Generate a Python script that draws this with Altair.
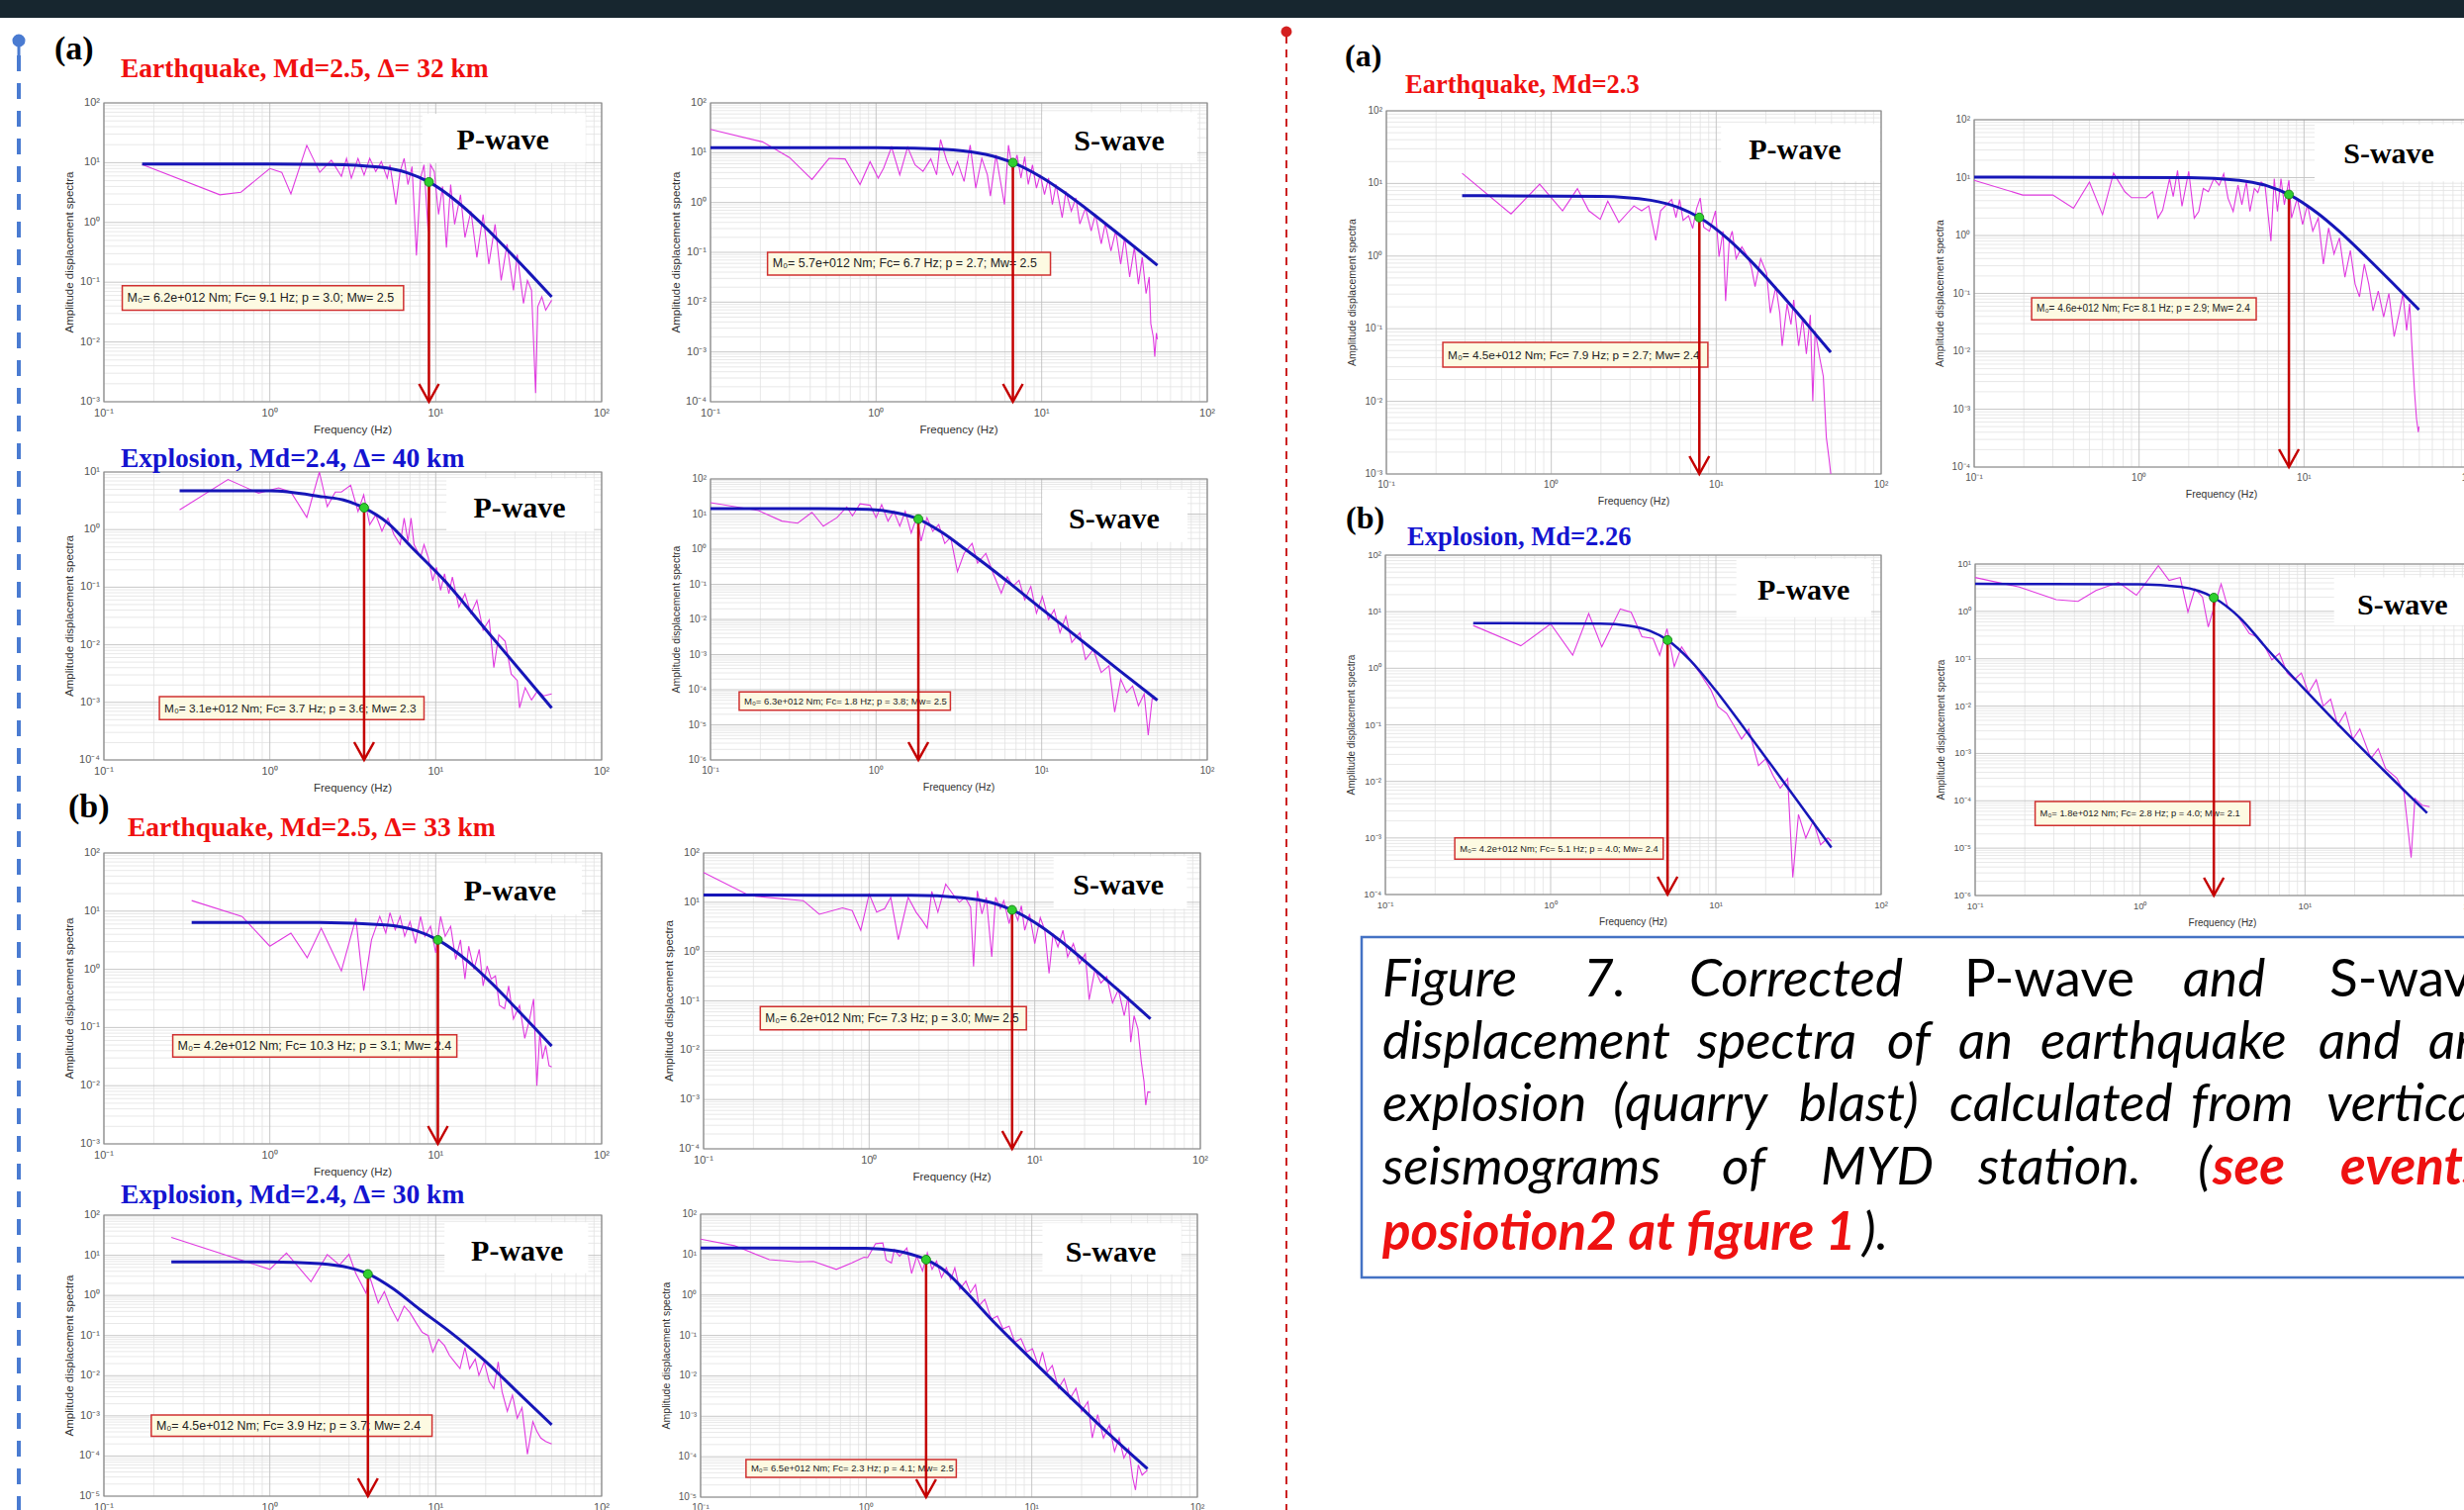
import math
import altair as alt
import pandas as pd

W, H = 2490, 1526

# ================= DATA =================
# observed spectra (magenta): (frequency Hz, amplitude)
P1_OBS = [(0.17, 9.3), (0.5, 2.9), (0.67, 3.2), (1.0, 8.0), (1.18, 6.9), (1.34, 3.0), (1.67, 19.5), (2.0, 6.9),
          (2.35, 11), (2.7, 5.9), (2.9, 11.8), (3.1, 5.5), (3.4, 11.8), (3.7, 6.2), (4.0, 11.8), (4.35, 7.1),
          (4.7, 10.4), (5.1, 5.5), (5.3, 9.2), (5.75, 2.0), (6.1, 7.1), (6.45, 11.8), (6.8, 4.3), (7.2, 8.6),
          (7.65, 0.28), (8.1, 5.5), (8.5, 9.2), (9.0, 0.72), (9.3, 9.2), (9.8, 7.1), (10.4, 1.36), (11, 4.0),
          (11.6, 0.38), (12.3, 4.3), (13, 0.93), (14.1, 2.9), (15, 0.56), (16.3, 1.54), (17.7, 0.26), (19.3, 1.36),
          (20.9, 0.20), (22.8, 0.93), (24.8, 0.107), (26.9, 0.43), (29.4, 0.073), (31, 0.29), (33.8, 0.044),
          (35.7, 0.107), (37.8, 0.073), (40, 0.0014), (41.2, 0.039), (43.6, 0.057), (46, 0.034), (50, 0.050)]
P1_FIT = [(0.17, 9.5), (1.0, 9.5), (2.3, 9.35), (4.55, 8.44), (6.8, 6.70), (9.1, 4.75), (13.6, 2.17),
          (18.2, 1.056), (27.3, 0.339), (36, 0.151), (50, 0.057)]

P2_OBS = [(0.1, 29.5), (0.206, 16.5), (0.30, 8.0), (0.41, 2.9), (0.52, 7.7), (0.65, 7.5), (0.80, 2.3), (0.92, 6.6),
          (1.03, 3.1), (1.11, 4.9), (1.24, 13), (1.39, 3.6), (1.55, 13), (1.72, 5.7), (1.92, 4.2), (2.14, 7.5),
          (2.32, 3.6), (2.45, 18.4), (2.67, 6.9), (2.9, 3.6), (3.1, 6.6), (3.4, 2.65), (3.7, 14.2), (4.0, 1.95),
          (4.35, 7.7), (4.7, 3.6), (4.9, 1.34), (5.3, 9), (5.55, 3.6), (5.96, 0.91), (6.3, 14.2), (6.7, 4.2),
          (7.1, 9), (7.5, 3.1), (7.9, 8.3), (8.3, 2.3), (8.8, 5.7), (9.3, 1.95), (9.8, 3.6), (10.4, 1.44),
          (11, 3.1), (11.6, 0.91), (12.2, 2.3), (13.3, 0.5), (14, 1.68), (15.1, 0.67), (16.1, 1.24), (17, 0.37),
          (18.4, 0.78), (19.9, 0.27), (21.1, 0.58), (22.9, 0.148), (24.2, 0.38), (26.2, 0.107), (28, 0.27),
          (30, 0.058), (31.7, 0.2), (34, 0.032), (36.3, 0.126), (38.4, 0.023), (40.5, 0.079), (42.7, 0.0149),
          (44.6, 0.032), (45.6, 0.0037), (47.2, 0.002), (48.2, 0.0008), (49.3, 0.0024), (50, 0.0018)]
P2_FIT = [(0.1, 12.6), (1.0, 12.55), (1.7, 12.3), (3.35, 10.9), (5.0, 8.67), (6.7, 6.3), (10, 3.19), (13.4, 1.68),
          (20, 0.624), (30, 0.215), (50, 0.055)]

P3_OBS = [(0.286, 2.2), (0.56, 7.4), (0.855, 4.3), (1.13, 5.3), (1.34, 4.5), (1.67, 1.63), (1.99, 10), (2.22, 2.5),
          (2.48, 4.5), (2.7, 4.5), (3.07, 5.9), (3.4, 2.06), (3.68, 4.0), (4.0, 1.22), (4.35, 1.8), (4.74, 0.94),
          (5.15, 1.58), (5.6, 0.82), (6.1, 0.55), (6.45, 1.58), (6.8, 0.63), (7.1, 1.58), (7.4, 0.55), (8.1, 0.33),
          (8.5, 0.55), (9.0, 0.33), (9.6, 0.13), (10.1, 0.22), (10.7, 0.088), (11.3, 0.17), (12, 0.077),
          (12.6, 0.15), (13.8, 0.045), (15, 0.077), (16.3, 0.035), (17.7, 0.059), (19.3, 0.018), (21, 0.027),
          (22.4, 0.004), (24, 0.0148), (26.2, 0.0115), (28.5, 0.0031), (31, 0.0024), (32, 0.0008), (34.6, 0.0018),
          (37.8, 0.0011), (41.2, 0.0016), (44.7, 0.0013), (50, 0.0014)]
P3_FIT = [(0.286, 4.7), (1.0, 4.7), (2.1, 3.7), (2.78, 3.27), (3.68, 2.4), (5.15, 1.3), (7.2, 0.485), (11.3, 0.13),
          (19.9, 0.0187), (34.7, 0.0028), (50, 0.0008)]

P4_OBS = [(0.1, 21), (0.195, 12.6), (0.27, 6.3), (0.336, 5.5), (0.41, 11.2), (0.48, 4.5), (0.58, 7.9), (0.665, 15.8),
          (0.72, 8.9), (0.80, 19.5), (0.92, 17.8), (1.0, 7.9), (1.08, 18.6), (1.18, 6.3), (1.28, 12), (1.39, 4.5),
          (1.5, 12), (1.63, 2.9), (1.77, 8.9), (1.87, 1.7), (2.03, 7.9), (2.2, 3.2), (2.39, 5), (2.6, 1.45),
          (2.82, 2.2), (3.1, 0.23), (3.4, 0.76), (3.8, 1.45), (4.1, 0.4), (4.6, 0.76), (5.1, 0.2), (5.7, 0.056),
          (6.2, 0.165), (6.7, 0.087), (7.3, 0.13), (7.9, 0.036), (8.6, 0.087), (9.3, 0.015), (10.1, 0.045),
          (11, 0.01), (11.9, 0.019), (12.9, 0.0042), (14, 0.0124), (15.2, 0.0022), (17, 0.0042), (18.4, 0.00072),
          (20.5, 0.0014), (22.9, 0.00031), (25.5, 0.00048), (27.6, 2.3e-5), (30, 0.0002), (32.6, 8.3e-5),
          (35.4, 0.000126), (38.4, 3.5e-5), (41.6, 7.6e-5), (44, 5.1e-6), (46.5, 5.7e-5), (50, 5e-5)]
P4_FIT = [(0.1, 14.4), (0.45, 14.3), (0.9, 13.5), (1.3, 11), (1.8, 7.2), (2.5, 3.0), (3.5, 0.95), (5, 0.27),
          (10, 0.02), (20, 0.0015), (30, 0.00033), (50, 5e-5)]

P5_OBS = [(0.338, 15.2), (0.68, 8.1), (1.0, 2.5), (1.34, 4.2), (1.68, 1.58), (2.04, 5.1), (2.7, 0.94), (3.3, 7.6),
          (3.68, 0.43), (4.1, 3.2), (4.6, 8.1), (5.0, 4.2), (5.3, 9.4), (5.7, 4.8), (6.1, 8.1), (6.5, 3.7),
          (7.0, 6.6), (7.55, 2.8), (8.1, 8.1), (8.6, 3.7), (9.3, 5.5), (10, 1.92), (10.7, 8.1), (11.4, 3.7),
          (12.3, 5.5), (13.2, 1.48), (14.1, 3.2), (15, 0.68), (15.8, 2.5), (17, 1.0), (18.3, 2.2), (19.3, 0.52),
          (20.4, 1.14), (21.6, 0.68), (22.9, 0.77), (24.2, 0.24), (26, 0.21), (27.5, 0.52), (29.4, 0.14),
          (32, 0.24), (34.4, 0.065), (36.8, 0.14), (38.9, 0.31), (40.7, 0.01), (42.4, 0.083), (44, 0.029),
          (46, 0.049), (48.2, 0.022), (50, 0.021)]
P5_FIT = [(0.338, 6.4), (2, 6.36), (5, 5.8), (7.5, 4.7), (10.3, 3.2), (15.8, 1.34), (21.2, 0.62), (32, 0.185),
          (50, 0.048)]

P6_OBS = [(0.1, 40), (0.19, 13.6), (0.4, 10.8), (0.5, 5.7), (0.69, 7.7), (0.79, 6.8), (0.89, 2.7), (1.0, 14.7),
          (1.11, 6.3), (1.24, 7.4), (1.35, 12.6), (1.5, 1.74), (1.72, 12.6), (1.92, 6.3), (2.09, 4.3), (2.24, 3.0),
          (2.39, 16.6), (2.6, 6.3), (2.9, 23.3), (3.2, 14.7), (3.5, 10), (3.8, 12.6), (4.1, 7.9), (4.27, 0.5),
          (4.5, 17), (4.8, 5.8), (5.1, 12.6), (5.5, 0.78), (5.8, 12.6), (6.2, 7.4), (6.5, 10.8), (7.0, 3.7),
          (7.4, 7.9), (7.9, 4.3), (8.3, 8.5), (8.7, 2.7), (9.3, 5.8), (10, 1.45), (10.8, 4.9), (11.5, 2.7),
          (12.2, 0.36), (12.9, 2.3), (13.8, 1.24), (14.8, 2.7), (15.8, 0.78), (17.1, 1.45), (18.6, 0.57),
          (20.2, 0.9), (21.3, 0.105), (23.1, 0.43), (25.1, 0.23), (27.2, 0.31), (29.5, 0.091), (32, 0.17),
          (34.7, 0.05), (36.7, 0.125), (38, 0.0145), (39.8, 0.05), (42, 0.027), (44, 0.0058), (45.7, 0.0023),
          (46.8, 0.00077), (48.2, 0.00143), (50, 0.0014)]
P6_FIT = [(0.1, 14), (1.8, 13.8), (3.65, 12.4), (5.5, 9.8), (7.3, 7.0), (11, 3.17), (14.6, 1.56), (22, 0.49),
          (33, 0.15), (50, 0.0435)]

P7_OBS = [(0.255, 28), (1.0, 4.45), (1.26, 11.4), (1.77, 2.2), (2.22, 10.4), (2.63, 5.7), (3.0, 10.6), (3.3, 3.5),
          (3.8, 1.14), (4.0, 2.9), (4.5, 0.65), (4.9, 1.25), (5.3, 0.54), (5.9, 0.23), (6.45, 0.54), (7.0, 0.37),
          (7.6, 0.21), (8.3, 0.12), (9.0, 0.1), (9.6, 0.039), (10.4, 0.081), (11.3, 0.056), (12.1, 0.032),
          (13, 0.022), (14, 0.015), (15, 0.05), (16, 0.015), (17.3, 0.026), (18.2, 0.0102), (19.6, 0.022),
          (21, 0.0071), (22.4, 0.0048), (23.8, 0.022), (25.1, 0.004), (27, 0.0013), (29, 0.0033), (31, 0.00087),
          (33.1, 0.0016), (35.7, 0.00011), (38.5, 0.00072), (40.7, 0.00041), (43, 0.00028), (46, 0.00023),
          (50, 0.0002)]
P7_FIT = [(0.255, 6.85), (1.0, 6.85), (2.0, 6.2), (3.0, 4.9), (3.94, 3.4), (5.5, 1.5), (8, 0.45), (12, 0.13),
          (19.9, 0.023), (29.7, 0.0047), (50, 0.0006)]

P8_OBS = [(0.1, 24), (0.16, 16.6), (0.26, 7.5), (0.385, 6.6), (0.48, 6.8), (0.66, 4.3), (0.82, 6.2), (0.97, 8.6),
          (1.02, 8.4), (1.14, 18.6), (1.26, 19.4), (1.32, 7.3), (1.42, 6.2), (1.48, 13.3), (1.59, 9.1),
          (1.76, 14.6), (1.88, 3.4), (2.02, 9.1), (2.19, 3.9), (2.34, 11), (2.5, 4.3), (2.66, 6.9), (2.85, 2.7),
          (3.05, 4.7), (3.24, 2.4), (3.43, 4.7), (3.67, 1.38), (4.0, 2.2), (4.26, 1.14), (4.57, 1.8), (4.8, 0.54),
          (5.2, 0.78), (5.7, 0.25), (6.2, 0.3), (6.7, 0.145), (7.3, 0.17), (7.9, 0.068), (8.6, 0.083),
          (9.3, 0.039), (10.1, 0.047), (11, 0.017), (11.6, 0.039), (12.4, 0.0125), (13.3, 0.018), (14.5, 0.0049),
          (15.7, 0.0085), (17, 0.0027), (18.5, 0.0049), (20, 0.0013), (21.8, 0.0023), (23.2, 0.00029),
          (25, 0.0011), (27.1, 0.00029), (29.4, 0.0006), (31.6, 0.000135), (33.7, 0.00029), (36, 9.3e-5),
          (38.5, 0.00016), (40.7, 3e-5), (42.3, 1.5e-5), (44, 6.3e-5), (46.4, 3.5e-5), (50, 4.7e-5)]
P8_FIT = [(0.1, 14.6), (1.0, 14.4), (1.5, 12.5), (2.3, 7.5), (3.0, 3.9), (4.0, 1.2), (6.0, 0.2), (10, 0.025),
          (20, 0.0016), (30, 0.00033), (50, 5e-5)]

P9_OBS = [(0.288, 13.8), (0.57, 3.8), (0.85, 9.8), (1.17, 4.2), (1.44, 8.5), (1.69, 4.2), (1.98, 3.2), (2.2, 5.7),
          (2.57, 2.9), (2.86, 3.8), (3.17, 4.9), (3.53, 4.2), (3.9, 4.9), (4.3, 1.65), (4.6, 4.2), (5.0, 5.1),
          (5.37, 6.0), (5.7, 3.4), (6.0, 6.0), (6.3, 3.1), (6.8, 3.6), (7.2, 2.4), (7.6, 4.5), (8.0, 6.3),
          (8.4, 2.5), (9.1, 2.2), (9.9, 4.2), (10.4, 0.98), (11, 2.2), (11.4, 0.24), (12, 1.65), (12.5, 2.2),
          (13.2, 0.92), (14.3, 1.34), (15.5, 0.98), (16.3, 0.72), (17.2, 0.38), (18.6, 0.92), (20.2, 0.58),
          (21.3, 0.164), (23, 0.38), (24.3, 0.164), (25.1, 0.058), (26.9, 0.22), (28.4, 0.114), (29.5, 0.25),
          (31.6, 0.058), (33.4, 0.14), (35.2, 0.045), (37.2, 0.155), (38.5, 0.01), (39.8, 0.093), (42.3, 0.041),
          (44.6, 0.022), (46.5, 0.0032), (48.2, 0.0017), (49.5, 0.001)]
P9_FIT = [(0.288, 6.8), (2.0, 6.64), (4.0, 5.87), (6.0, 4.6), (7.9, 3.4), (11.85, 1.7), (15.8, 0.907),
          (23.7, 0.333), (35, 0.12), (49.5, 0.0475)]

P10_OBS = [(0.1, 9.0), (0.197, 5.0), (0.3, 5.0), (0.4, 2.95), (0.5, 8.4), (0.6, 2.3), (0.7, 12), (0.82, 5.7),
           (0.9, 4.5), (1.1, 4.5), (1.21, 5.7), (1.3, 2.0), (1.39, 2.75), (1.53, 9.6), (1.61, 4.7), (1.71, 13.3),
           (1.82, 3.2), (2.0, 12.8), (2.16, 2.0), (2.3, 2.6), (2.45, 6.5), (2.63, 5.7), (2.84, 9.6), (3.06, 7.4),
           (3.26, 11.7), (3.46, 4.4), (3.72, 2.6), (3.98, 7.4), (4.2, 3.4), (4.47, 8.4), (4.7, 2.6), (5.0, 6.5),
           (5.25, 5.5), (5.5, 8.4), (5.8, 7.4), (6.3, 0.8), (6.6, 9.6), (6.9, 2.6), (7.25, 9.6), (7.6, 3.4),
           (8.1, 9.0), (8.4, 2.0), (9.1, 4.4), (9.8, 1.55), (10.5, 3.4), (11.3, 1.19), (12.2, 2.0), (13.1, 0.32),
           (14.1, 1.35), (15.2, 0.48), (16.4, 0.91), (17.7, 0.19), (19.1, 0.55), (20.4, 0.145), (21.7, 0.087),
           (23.2, 0.32), (24.7, 0.145), (26.2, 0.05), (28.2, 0.11), (30.4, 0.039), (32.7, 0.1), (35.2, 0.018),
           (38, 0.05), (39.8, 0.1), (41.9, 0.023), (43.7, 0.066), (45.2, 0.0107), (46.8, 0.00195),
           (48.1, 0.00068), (49.3, 0.0004), (49.8, 0.0005)]
P10_FIT = [(0.1, 10.2), (2.0, 10.03), (4.05, 9.0), (6.0, 7.2), (8.1, 5.1), (12.15, 2.4), (16.2, 1.21),
           (24.3, 0.405), (36, 0.133), (49.8, 0.0523)]

P11_OBS = [(0.34, 5.7), (0.66, 2.5), (1.0, 6.1), (1.36, 1.7), (1.7, 9.3), (2.04, 2.4), (2.64, 11.2), (3.07, 9.8),
           (3.57, 3.6), (4.17, 3.35), (4.57, 1.7), (5.06, 5.0), (5.6, 1.07), (6.2, 2.4), (7.0, 1.4), (8.0, 0.82),
           (9.3, 0.42), (10.3, 0.21), (11.6, 0.16), (12.9, 0.095), (14.3, 0.056), (15.8, 0.084), (18.1, 0.019),
           (20, 0.025), (22.1, 0.0129), (24.5, 0.0076), (27.2, 0.0112), (29.2, 0.0002), (31.6, 0.0026),
           (35, 0.001), (38.8, 0.002), (43, 0.00076), (47.6, 0.001), (50, 0.00088)]
P11_FIT = [(0.34, 6.3), (2.0, 6.15), (3.0, 5.63), (4.0, 4.57), (5.1, 3.15), (7.0, 1.38), (10, 0.40), (15, 0.083),
           (25, 0.0109), (50, 0.00068)]

P12_OBS = [(0.1, 5.2), (0.185, 3.26), (0.31, 1.77), (0.42, 1.63), (0.54, 2.76), (0.74, 4.1), (0.95, 2.2), (1.1, 4.3),
           (1.29, 9.2), (1.5, 4.5), (1.75, 5.2), (1.95, 0.97), (2.15, 3.0), (2.39, 2.0), (2.59, 0.47), (2.87, 1.6),
           (3.1, 3.8), (3.4, 1.23), (3.8, 0.9), (4.2, 0.55), (4.6, 0.34), (5.1, 0.29), (5.7, 0.18), (6.3, 0.095),
           (7.0, 0.13), (7.8, 0.05), (8.6, 0.036), (9.5, 0.05), (10.5, 0.019), (11.7, 0.036), (12.9, 0.01),
           (14.3, 0.014), (15.8, 0.0039), (17.6, 0.0074), (19.5, 0.002), (21.5, 0.0033), (25.1, 0.00078),
           (27.8, 0.00126), (30.8, 0.00048), (36, 0.0003), (39.8, 0.000155), (44, 6.3e-6), (46.4, 0.000112),
           (51.3, 8.1e-5), (57, 7.5e-5)]
P12_FIT = [(0.1, 3.8), (1.0, 3.75), (1.75, 3.3), (2.8, 1.95), (4.0, 0.75), (6.0, 0.15), (10, 0.022), (20, 0.0018),
           (30, 0.00044), (55, 5.5e-5)]

# fitted source parameters / panel content
PANELS = [
    dict(wave='P-wave', fc=9.1, afc=4.75, ydom=(1e-3, 1e2), obs=P1_OBS, fit=P1_FIT,
         note='M₀= 6.2e+012 Nm; Fc= 9.1 Hz; p = 3.0; Mw= 2.5'),
    dict(wave='S-wave', fc=6.7, afc=6.3, ydom=(1e-4, 1e2), obs=P2_OBS, fit=P2_FIT,
         note='M₀= 5.7e+012 Nm; Fc= 6.7 Hz; p = 2.7; Mw= 2.5'),
    dict(wave='P-wave', fc=3.7, afc=2.4, ydom=(1e-4, 1e1), obs=P3_OBS, fit=P3_FIT,
         note='M₀= 3.1e+012 Nm; Fc= 3.7 Hz; p = 3.6; Mw= 2.3'),
    dict(wave='S-wave', fc=1.8, afc=7.2, ydom=(1e-6, 1e2), obs=P4_OBS, fit=P4_FIT,
         note='M₀= 6.3e+012 Nm; Fc= 1.8 Hz; p = 3.8; Mw= 2.5'),
    dict(wave='P-wave', fc=10.3, afc=3.2, ydom=(1e-3, 1e2), obs=P5_OBS, fit=P5_FIT,
         note='M₀= 4.2e+012 Nm; Fc= 10.3 Hz; p = 3.1; Mw= 2.4'),
    dict(wave='S-wave', fc=7.3, afc=7.0, ydom=(1e-4, 1e2), obs=P6_OBS, fit=P6_FIT,
         note='M₀= 6.2e+012 Nm; Fc= 7.3 Hz; p = 3.0; Mw= 2.5'),
    dict(wave='P-wave', fc=3.9, afc=3.4, ydom=(1e-5, 1e2), obs=P7_OBS, fit=P7_FIT,
         note='M₀= 4.5e+012 Nm; Fc= 3.9 Hz; p = 3.7; Mw= 2.4'),
    dict(wave='S-wave', fc=2.3, afc=7.5, ydom=(1e-5, 1e2), obs=P8_OBS, fit=P8_FIT,
         note='M₀= 6.5e+012 Nm; Fc= 2.3 Hz; p = 4.1; Mw= 2.5'),
    dict(wave='P-wave', fc=7.9, afc=3.4, ydom=(1e-3, 1e2), obs=P9_OBS, fit=P9_FIT,
         note='M₀= 4.5e+012 Nm; Fc= 7.9 Hz; p = 2.7; Mw= 2.4'),
    dict(wave='S-wave', fc=8.1, afc=5.1, ydom=(1e-4, 1e2), obs=P10_OBS, fit=P10_FIT,
         note='M₀= 4.6e+012 Nm; Fc= 8.1 Hz; p = 2.9; Mw= 2.4'),
    dict(wave='P-wave', fc=5.1, afc=3.15, ydom=(1e-4, 1e2), obs=P11_OBS, fit=P11_FIT,
         note='M₀= 4.2e+012 Nm; Fc= 5.1 Hz; p = 4.0; Mw= 2.4'),
    dict(wave='S-wave', fc=2.8, afc=1.95, ydom=(1e-6, 1e1), obs=P12_OBS, fit=P12_FIT,
         note='M₀= 1.8e+012 Nm; Fc= 2.8 Hz; p = 4.0; Mw= 2.1'),
]

X_TICKS = [0.1, 1, 10, 100]
X_TITLE = 'Frequency (Hz)'
Y_TITLE = 'Amplitude displacement spectra'

TITLES = [
    ('(a)', 'black', 34, 55, 60),
    ('Earthquake, Md=2.5, Δ= 32 km', 'red', 27.5, 122, 78),
    ('Explosion, Md=2.4, Δ= 40 km', 'blue', 27.5, 122, 472),
    ('(b)', 'black', 34, 69, 826),
    ('Earthquake, Md=2.5, Δ= 33 km', 'red', 27.5, 129, 845),
    ('Explosion, Md=2.4, Δ= 30 km', 'blue', 27.5, 122, 1216),
    ('(a)', 'black', 32, 1359, 67),
    ('Earthquake, Md=2.3', 'red', 26.5, 1420, 94),
    ('(b)', 'black', 32, 1360, 534),
    ('Explosion, Md=2.26', 'blue', 26.5, 1422, 551),
]

CAPTION = [
    # (word, style, x, baseline)  style: i = italic, u = upright, r = red bold italic
    ('Figure', 'i', 1397, 1007), ('7.', 'i', 1600, 1007), ('Corrected', 'i', 1707, 1007),
    ('P-wave', 'u', 1985, 1007), ('and', 'i', 2206, 1007), ('S-wave', 'u', 2354, 1007),
    ('displacement', 'i', 1397, 1070), ('spectra', 'i', 1715, 1070), ('of', 'i', 1907, 1070),
    ('an', 'i', 1979, 1070), ('earthquake', 'i', 2062, 1070), ('and', 'i', 2343, 1070), ('an', 'i', 2454, 1070),
    ('explosion', 'i', 1397, 1133), ('(quarry', 'i', 1630, 1133), ('blast)', 'i', 1818, 1133),
    ('calculated', 'i', 1970, 1133), ('from', 'i', 2214, 1133), ('vertical', 'i', 2351, 1133),
    ('seismograms', 'i', 1397, 1197), ('of', 'i', 1740, 1197), ('MYD', 'i', 1840, 1197),
    ('station.', 'i', 1999, 1197), ('(', 'i', 2221, 1197), ('see', 'r', 2236, 1197), ('events', 'r', 2365, 1197),
    ('posiotion2 at figure 1', 'r', 1397, 1263), (').', 'i', 1882, 1263),
]

# ================= LAYOUT (pixel frames of each panel, annotation placement) =================
LAYOUT = [
    dict(L=105, R=608, T=104, B=406, afs=11, lw=3, bfs=12.5, anno=(0.129, 6.4, 0.034, 0.087), lab=(25.4, 23.8), labbox=(8.3, 80, 10, 66)),
    dict(L=718, R=1220, T=104, B=406, afs=11, lw=3, bfs=12.4, anno=(0.221, 11.3, 0.035, 0.1), lab=(29.4, 16.6), labbox=(10.1, 87, 6.2, 65)),
    dict(L=105, R=608, T=477, B=768, afs=11, lw=3, bfs=11.8, anno=(0.216, 8.5, 0.0005, 0.00126), lab=(32, 2.35), labbox=(11.6, 90, 0.93, 7.7)),
    dict(L=718, R=1220, T=484, B=768, afs=10, lw=3, bfs=9.5, anno=(0.149, 2.81, 2.6e-5, 8.6e-5), lab=(27.4, 7.2), labbox=(10.1, 76, 1.6, 50)),
    dict(L=105, R=608, T=862, B=1156, afs=11, lw=3, bfs=12.5, anno=(0.26, 13.4, 0.031, 0.075), lab=(28, 21.6), labbox=(10.1, 76, 8.7, 66)),
    dict(L=711, R=1213, T=862, B=1161, afs=11, lw=3, bfs=11.9, anno=(0.22, 8.9, 0.026, 0.077), lab=(32, 21.5), labbox=(13, 83, 7.4, 85)),
    dict(L=105, R=608, T=1228, B=1512, afs=11, lw=3, bfs=12.4, anno=(0.193, 9.5, 0.00031, 0.00105), lab=(31, 12), labbox=(11.3, 83, 3.55, 66)),
    dict(L=708, R=1210, T=1227, B=1513, afs=10, lw=3, bfs=9.5, anno=(0.188, 3.5, 3.1e-5, 8.5e-5), lab=(30, 11), labbox=(11.6, 80, 3.2, 59)),
    dict(L=1401, R=1901, T=112, B=479, afs=10, lw=3, bfs=11.8, anno=(0.22, 8.9, 0.0295, 0.065), lab=(30, 28.7), labbox=(10.7, 98, 10.7, 66)),
    dict(L=1995, R=2495, T=121, B=472, afs=10, lw=3, bfs=10, anno=(0.223, 5.13, 0.035, 0.084), lab=(32.7, 25.6), labbox=(11.6, 130, 8.6, 83)),
    dict(L=1400, R=1901, T=561, B=904, afs=9.5, lw=2.5, bfs=9.3, anno=(0.263, 4.8, 0.00042, 0.001), lab=(34, 23), labbox=(13.3, 87, 8, 85)),
    dict(L=1996, R=2496, T=570, B=905, afs=9.5, lw=2.5, bfs=9.4, anno=(0.231, 4.64, 3.0e-5, 9.7e-5), lab=(39, 1.33), labbox=(15, 130, 0.51, 5.2)),
]

SUP = {'-': '⁻', '0': '⁰', '1': '¹', '2': '²', '3': '³', '4': '⁴', '5': '⁵', '6': '⁶'}


def pow_label(v):
    e = round(math.log10(v))
    return '10' + ''.join(SUP[c] for c in str(e))


SANS = 'Liberation Sans'
SERIF = 'Liberation Serif'


def make_panel(info, lay):
    ylo, yhi = info['ydom']
    xs = alt.Scale(type='log', domain=[0.1, 100], range=[lay['L'], lay['R']], nice=False)
    ys = alt.Scale(type='log', domain=[ylo, yhi], range=[lay['B'], lay['T']], nice=False)
    e_lo, e_hi = round(math.log10(ylo)), round(math.log10(yhi))

    x_major = [10.0 ** e for e in range(-1, 3)]
    x_minor = [m * 10.0 ** e for e in range(-1, 2) for m in range(2, 10)]
    y_major = [10.0 ** e for e in range(e_lo, e_hi + 1)]
    y_minor = [m * 10.0 ** e for e in range(e_lo, e_hi) for m in range(2, 10)]

    def X(f):
        return alt.X(f, scale=xs, axis=None)

    def Y(f):
        return alt.Y(f, scale=ys, axis=None)

    def vgrid(vals, color, w):
        df = pd.DataFrame({'v': vals, 'lo': ylo, 'hi': yhi})
        return alt.Chart(df).mark_rule(color=color, strokeWidth=w).encode(x=X('v:Q'), y=Y('lo:Q'), y2='hi:Q')

    def hgrid(vals, color, w):
        df = pd.DataFrame({'v': vals, 'lo': 0.1, 'hi': 100})
        return alt.Chart(df).mark_rule(color=color, strokeWidth=w).encode(y=Y('v:Q'), x=X('lo:Q'), x2='hi:Q')

    frame_df = pd.DataFrame({'x0': [0.1], 'x1': [100], 'y0': [ylo], 'y1': [yhi]})
    frame = alt.Chart(frame_df).mark_rect(fillOpacity=0, stroke='#8a8a8a', strokeWidth=1.2).encode(
        x=X('x0:Q'), x2='x1:Q', y=Y('y0:Q'), y2='y1:Q')

    # tick labels and axis titles
    xl_df = pd.DataFrame({'v': X_TICKS, 'b': ylo, 't': [pow_label(v) for v in X_TICKS]})
    xlab = alt.Chart(xl_df).mark_text(font=SANS, fontSize=lay['afs'], color='#555555', align='center',
                                      baseline='top', dy=6).encode(x=X('v:Q'), y=Y('b:Q'), text='t:N')
    yl_df = pd.DataFrame({'v': y_major, 'l': 0.1, 't': [pow_label(v) for v in y_major]})
    ylab = alt.Chart(yl_df).mark_text(font=SANS, fontSize=lay['afs'], color='#555555', align='right',
                                      baseline='middle', dx=-4).encode(x=X('l:Q'), y=Y('v:Q'), text='t:N')
    xt_df = pd.DataFrame({'x': [math.sqrt(0.1 * 100)], 'b': [ylo], 't': [X_TITLE]})
    xtit = alt.Chart(xt_df).mark_text(font=SANS, fontSize=lay['afs'] + 0.5, color='#333333', align='center',
                                      baseline='top', dy=23).encode(x=X('x:Q'), y=Y('b:Q'), text='t:N')
    yt_df = pd.DataFrame({'l': [0.1], 'm': [math.sqrt(ylo * yhi)], 't': [Y_TITLE]})
    ytit = alt.Chart(yt_df).mark_text(font=SANS, fontSize=lay['afs'] + 0.5, color='#333333', align='center',
                                      baseline='bottom', angle=270, dy=-29).encode(x=X('l:Q'), y=Y('m:Q'), text='t:N')

    lb = lay['labbox']
    labbox = alt.Chart(pd.DataFrame({'x0': [lb[0]], 'x1': [lb[1]], 'y0': [lb[2]], 'y1': [lb[3]]})).mark_rect(
        fill='white').encode(x=X('x0:Q'), x2='x1:Q', y=Y('y0:Q'), y2='y1:Q')
    labtxt = alt.Chart(pd.DataFrame({'f': [lay['lab'][0]], 'a': [lay['lab'][1]], 't': [info['wave']]})).mark_text(
        font=SERIF, fontWeight='bold', fontSize=30, color='black', align='center', baseline='middle').encode(
        x=X('f:Q'), y=Y('a:Q'), text='t:N')

    obs_df = pd.DataFrame(info['obs'], columns=['f', 'A'])
    obs_df['i'] = range(len(obs_df))
    obs = alt.Chart(obs_df).mark_line(color='#e03ae0', strokeWidth=1.1).encode(
        x=X('f:Q'), y=Y('A:Q'), order='i:Q')

    fit_df = pd.DataFrame(info['fit'], columns=['f', 'A'])
    fit = alt.Chart(fit_df).mark_line(color='#1616b8', strokeWidth=lay['lw'], interpolate='monotone').encode(
        x=X('f:Q'), y=Y('A:Q'))

    an = lay['anno']
    anno_df = pd.DataFrame({'x0': [an[0]], 'x1': [an[1]], 'y0': [an[2]], 'y1': [an[3]],
                            'ym': [math.sqrt(an[2] * an[3])], 't': [info['note']]})
    anno_box = alt.Chart(anno_df).mark_rect(fill='#fdfae2', stroke='#d03030', strokeWidth=1.5).encode(
        x=X('x0:Q'), x2='x1:Q', y=Y('y0:Q'), y2='y1:Q')
    anno_txt = alt.Chart(anno_df).mark_text(font=SANS, fontSize=lay['bfs'], color='#222222', align='left',
                                            baseline='middle', dx=5).encode(x=X('x0:Q'), y=Y('ym:Q'), text='t:N')

    fc_df = pd.DataFrame({'f': [info['fc']], 'a': [info['afc']], 'b': [ylo]})
    arrow = alt.Chart(fc_df).mark_rule(color='#c40000', strokeWidth=2.5).encode(x=X('f:Q'), y=Y('a:Q'), y2='b:Q')
    head = alt.Chart(fc_df).mark_point(shape='M-1,-1.8L0,0L1,-1.8', size=400, filled=False, color='#c40000',
                                       strokeWidth=2.5, opacity=1).encode(x=X('f:Q'), y=Y('b:Q'))
    dot = alt.Chart(fc_df).mark_circle(size=80, color='#2fcf2f', opacity=1, stroke='#1a8a1a', strokeWidth=1).encode(
        x=X('f:Q'), y=Y('a:Q'))

    return alt.layer(
        vgrid(x_minor, '#e2e2e2', 0.8), hgrid(y_minor, '#e2e2e2', 0.8),
        vgrid(x_major, '#c2c2c2', 0.9), hgrid(y_major, '#c2c2c2', 0.9),
        labbox, frame, xlab, ylab, xtit, ytit, obs, fit, anno_box, anno_txt, arrow, head, dot, labtxt)


panels = [make_panel(p, l) for p, l in zip(PANELS, LAYOUT)]

# ---------- page-level decorations, titles, caption ----------
px = alt.Scale(domain=[0, W], range=[0, W], nice=False, zero=False)
py = alt.Scale(domain=[0, H], range=[0, H], nice=False, zero=False)


def PX(f):
    return alt.X(f, scale=px, axis=None)


def PY(f):
    return alt.Y(f, scale=py, axis=None)


band = alt.Chart(pd.DataFrame({'x0': [0], 'x1': [W], 'y0': [0], 'y1': [18]})).mark_rect(fill='#17262f').encode(
    x=PX('x0:Q'), x2='x1:Q', y=PY('y0:Q'), y2='y1:Q')
blue_dash = alt.Chart(pd.DataFrame({'x': [19], 'y0': [56], 'y1': [H]})).mark_rule(
    color='#4a7bd1', strokeWidth=4, strokeDash=[16, 12]).encode(x=PX('x:Q'), y=PY('y0:Q'), y2='y1:Q')
blue_stem = alt.Chart(pd.DataFrame({'x': [19], 'y0': [42], 'y1': [56]})).mark_rule(
    color='#4a7bd1', strokeWidth=3).encode(x=PX('x:Q'), y=PY('y0:Q'), y2='y1:Q')
blue_pin = alt.Chart(pd.DataFrame({'x': [19], 'y': [41]})).mark_circle(size=170, color='#4a7bd1', opacity=1).encode(
    x=PX('x:Q'), y=PY('y:Q'))
red_dash = alt.Chart(pd.DataFrame({'x': [1300], 'y0': [36], 'y1': [H]})).mark_rule(
    color='#cc2222', strokeWidth=2, strokeDash=[8, 6]).encode(x=PX('x:Q'), y=PY('y0:Q'), y2='y1:Q')
red_pin = alt.Chart(pd.DataFrame({'x': [1300], 'y': [32]})).mark_circle(size=120, color='#d42020', opacity=1).encode(
    x=PX('x:Q'), y=PY('y:Q'))

title_df = pd.DataFrame(TITLES, columns=['t', 'c', 's', 'x', 'y'])
title_df['col'] = title_df['c'].map({'black': '#000000', 'red': '#f01010', 'blue': '#1414d0'})
titles = alt.Chart(title_df).mark_text(font=SERIF, fontWeight='bold', align='left', baseline='alphabetic').encode(
    x=PX('x:Q'), y=PY('y:Q'), text='t:N', size=alt.Size('s:Q', scale=None),
    color=alt.Color('col:N', scale=None))

cap_box = alt.Chart(pd.DataFrame({'x0': [1376], 'x1': [2540], 'y0': [947], 'y1': [1291]})).mark_rect(
    fillOpacity=0, stroke='#4472c4', strokeWidth=2.5).encode(x=PX('x0:Q'), x2='x1:Q', y=PY('y0:Q'), y2='y1:Q')
cap_df = pd.DataFrame(CAPTION, columns=['t', 's', 'x', 'y'])


def cap_layer(style, **kw):
    return alt.Chart(cap_df[cap_df['s'] == style]).mark_text(
        font='Lato', fontSize=53, align='left', baseline='alphabetic', **kw).encode(
        x=PX('x:Q'), y=PY('y:Q'), text='t:N')


cap_i = cap_layer('i', fontStyle='italic', color='#000000')
cap_u = cap_layer('u', color='#000000')
cap_r = cap_layer('r', fontStyle='italic', fontWeight='bold', color='#ee1111')

page = alt.layer(band, blue_dash, blue_stem, blue_pin, red_dash, red_pin, titles, cap_box, cap_i, cap_u, cap_r)

chart = alt.layer(*panels, page).resolve_scale(x='independent', y='independent').properties(
    width=W, height=H, padding=0, autosize=alt.AutoSizeParams(type='none'), background='white'
).configure_view(strokeWidth=0)

chart.save('out.html', embed_options={'renderer': 'svg', 'actions': False})
